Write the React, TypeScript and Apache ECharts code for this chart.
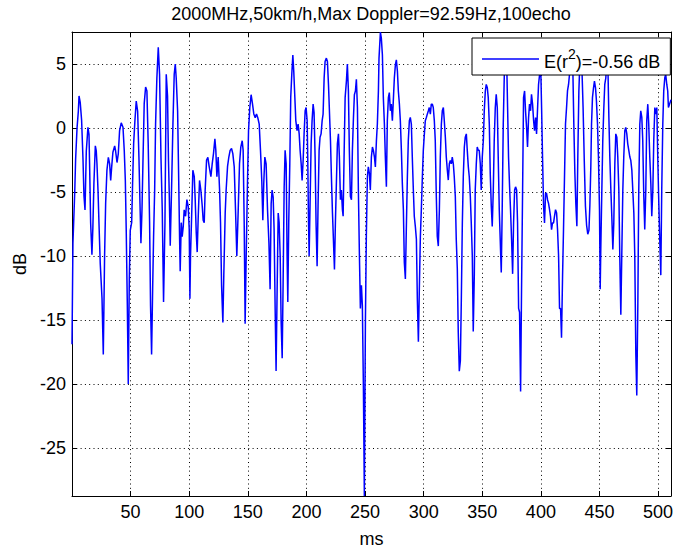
import React, { useEffect, useRef } from 'react';
import * as echarts from 'echarts';

const titleText = '2000MHz,50km/h,Max Doppler=92.59Hz,100echo';
const legendName = 'E(r^2)=-0.56 dB';
const xAxisName = 'ms';
const yAxisName = 'dB';
const xTicks = [50, 100, 150, 200, 250, 300, 350, 400, 450, 500];
const yTicks = [5, 0, -5, -10, -15, -20, -25];

// [time in ms, level in dB]
const trace0to100: [number, number][] = [
  [0, -16.9], [0.8, -9.0], [2.3, -5.1], [3.1, -2.4], [4.3, 0], [5.4, 1.3], [6.0, 2.5], [7.0, 2.0], [8.2, 0.6], [9.4, -2.5],
  [10.2, -5.3], [11.1, -6.4], [12.2, -1.8], [13.6, 0.05], [14.5, -0.5], [15.0, -2.8], [15.9, -7.4], [17.0, -9.9], [17.8, -7.8], [18.7, -4.3],
  [19.9, -1.4], [20.7, -1.8], [21.3, -2.8], [22.2, -4.9], [23.0, -7.4], [24.1, -10.6], [25.6, -13.3], [26.7, -17.7], [27.8, -10.0], [28.7, -5.9],
  [29.8, -3.3], [31.0, -2.3], [32.1, -2.8], [33.0, -4.1], [33.8, -3.1], [34.9, -1.9], [36.4, -1.4], [37.2, -1.8], [38.4, -2.7], [39.5, -2.0],
  [40.6, -0.2], [42.0, 0.4], [43.5, 0.05], [44.6, -1.8], [45.5, -4.1], [46.3, -8.2], [47.2, -13.9], [48.0, -20.0], [48.9, -11.7], [49.7, -8.0],
  [50.9, -7.4], [51.7, -4.3], [52.6, -1.2], [53.7, 0.6], [54.8, 2.1], [56.0, 1.3], [57.1, -2.3], [58.0, -5.9], [58.8, -9.0], [59.7, -6.4],
  [60.5, -2.8], [61.6, 1.9], [62.8, 3.2], [63.9, 2.9], [65.0, -1.2], [66.2, -7.4], [67.0, -13.9], [67.9, -17.7], [68.8, -12.6], [69.6, -8.5],
  [70.5, -4.9], [71.3, 0.3], [72.4, 3.9], [73.6, 6.3], [74.7, 4.2], [75.9, -2.3], [77.0, -6.4], [78.1, -13.6], [79.3, -7.4], [80.4, 4.2],
  [81.5, 2.5], [82.3, -2.5], [83.0, -5.3], [83.8, -9.2], [84.9, -4.9], [86.1, 0.3], [87.2, 4.2], [88.1, 5.0], [88.9, 3.9], [90.1, 1.3],
  [90.9, -3.3], [91.8, -8.7], [92.3, -11.2], [93.2, -7.4], [94.0, -8.5], [94.9, -7.7], [95.7, -6.4], [96.9, -6.9], [98.0, -5.6], [99.1, -6.1],
];

const trace100to200: [number, number][] = [
  [100.0, -7.9], [100.6, -13.35], [101.1, -10.0], [102.3, -6.1], [103.1, -3.3], [104.3, -3.8], [105.1, -5.6], [106.0, -8.2], [106.8, -9.7], [107.7, -6.9],
  [108.8, -4.1], [109.9, -4.85], [111.1, -6.1], [111.9, -7.2], [112.8, -7.4], [113.6, -4.85], [114.8, -2.5], [115.9, -2.3], [117.0, -3.0], [118.5, -3.8],
  [119.6, -2.8], [120.7, -2.0], [121.9, -0.85], [122.7, -1.75], [123.6, -3.8], [124.7, -2.27], [125.9, -4.85], [126.7, -7.4], [127.6, -12.3], [128.7, -15.2],
  [129.5, -11.5], [130.7, -6.6], [131.5, -4.85], [132.7, -3.0], [133.8, -2.27], [134.9, -1.75], [136.1, -1.6], [137.2, -2.0], [138.4, -3.04], [139.5, -6.4],
  [140.6, -10.0], [141.8, -6.4], [142.9, -2.8], [144.0, -1.5], [145.2, -1.0], [146.0, -1.75], [146.9, -7.4], [147.7, -15.3], [148.6, -10.0], [149.7, -4.3],
  [150.6, -0.2], [151.7, 1.6], [152.8, 2.6], [154.0, 1.86], [155.1, 1.1], [156.3, 0.8], [157.4, 1.1], [158.5, 0.8], [159.7, 0.3], [160.8, -1.75],
  [161.9, -4.1], [162.8, -7.2], [163.6, -4.3], [164.5, -2.27], [165.6, -2.8], [166.8, -6.4], [168.0, -9.0], [169.0, -12.6], [169.9, -5.9], [170.7, -4.85],
  [171.6, -5.4], [172.4, -7.9], [173.3, -14.1], [174.1, -19.0], [175.0, -12.6], [175.9, -6.65], [176.7, -7.4], [177.6, -10.0], [178.4, -15.15], [179.3, -18.0],
  [180.1, -12.1], [181.0, -4.6], [181.8, -1.75], [182.7, -2.8], [183.5, -10.0], [184.1, -13.6], [184.9, -7.4], [185.8, -2.8], [186.6, 2.4], [187.5, 4.2],
  [188.4, 5.7], [189.2, 4.4], [190.1, 2.4], [190.9, 0.6], [192.0, -0.2], [192.9, 0.3], [193.8, -0.46], [194.6, -1.75], [195.5, -2.8], [196.3, -4.1],
  [197.2, -2.5], [198.0, -0.46], [198.9, 1.34], [199.7, 1.6],
];

const trace200to300: [number, number][] = [
  [200.6, 0.57], [201.1, -2.27], [201.7, -6.9], [202.3, -10.0], [203.1, -5.9], [204.0, -1.24], [204.8, 0.57], [205.7, 1.86], [206.5, 1.2], [207.4, -2.27],
  [208.2, -7.4], [209.1, -10.8], [209.9, -6.1], [210.8, -1.75], [211.6, -0.72], [212.5, -0.46], [213.4, 0.57], [214.2, 1.08], [215.1, 3.92], [215.9, 5.2],
  [217.0, 5.46], [217.9, 5.2], [218.8, 3.4], [219.6, 1.34], [220.5, -0.98], [221.3, -3.8], [222.2, -6.65], [223.0, -8.7], [223.9, -11.05], [224.7, -7.4],
  [225.6, -4.1], [226.4, -1.24], [227.3, -0.46], [228.1, -2.27], [229.0, -5.6], [229.8, -4.85], [230.7, -6.4], [231.3, -6.9], [232.1, -2.27], [233.0, 2.37],
  [234.1, 3.66], [234.9, 5.0], [235.8, 2.9], [236.6, -1.75], [237.5, -5.36], [238.4, -5.6], [239.2, -1.75], [240.1, 0.8], [240.9, 2.6], [241.8, 2.9],
  [242.6, 3.8], [243.5, 1.6], [244.3, -4.85], [245.2, -10.0], [246.0, -14.1], [246.9, -12.3], [247.7, -13.9], [248.6, -20.3], [249.4, -28.76], [250.3, -15.2],
  [251.1, -8.45], [252.0, -3.8], [252.8, -3.04], [253.7, -3.56], [254.5, -4.85], [255.4, -2.27], [256.3, -1.49], [257.1, -1.75], [258.0, -2.27], [258.8, -3.04],
  [259.7, -0.98], [260.5, 0.31], [261.4, 2.9], [261.9, 5.46], [263.1, 7.5], [263.9, 7.0], [264.8, 5.7], [265.6, 2.37], [266.5, 0.31], [267.3, -2.27],
  [268.2, -4.6], [269.0, 0.57], [269.9, 2.37], [270.7, 2.76], [271.6, 1.34], [272.4, 1.86], [273.3, 0.57], [274.1, 2.11], [275.0, 3.92], [275.9, 4.95],
  [276.7, 5.33], [277.6, 4.43], [278.4, 2.89], [279.3, 1.86], [280.1, 0.57], [281.0, -1.75], [281.8, -4.33], [282.7, -6.39], [283.5, -10.5], [284.4, -11.8],
  [285.2, -7.94], [286.1, -3.81], [286.9, -0.98], [287.8, 0.57], [288.6, 0.82], [289.5, 0.31], [290.3, -2.27], [291.2, -4.85], [292.0, -6.9], [292.9, -7.7],
  [293.8, -8.7], [294.6, -13.35], [295.5, -16.7], [296.3, -12.6], [297.2, -8.45], [298.0, -6.4], [298.9, -3.8], [299.7, -1.75],
];

const trace300to400: [number, number][] = [
  [300.6, -0.46], [301.4, 0.57], [302.3, 0.82], [303.1, 1.08], [304.0, 1.34], [304.8, 1.6], [305.7, 1.08], [306.5, 1.86], [307.4, 1.86], [308.2, 1.6],
  [309.1, 0.57], [309.9, -0.98], [310.8, -5.36], [311.6, -8.45], [312.5, -9.23], [313.4, -6.4], [314.2, -2.27], [315.1, 0.31], [315.9, 1.34], [316.8, 1.6],
  [317.6, 0.57], [318.5, -0.72], [319.3, -2.27], [320.2, -3.3], [321.0, -4.07], [321.9, -2.8], [322.7, -2.53], [323.6, -2.8], [324.4, -2.27], [325.3, -2.8],
  [326.1, -3.81], [327.0, -5.36], [327.8, -8.7], [328.7, -11.0], [329.5, -15.9], [330.4, -19.0], [331.3, -18.2], [332.1, -13.6], [333.0, -7.4], [333.8, -3.81],
  [334.7, -1.49], [335.5, -0.72], [336.4, -0.46], [337.2, -1.75], [338.1, -3.04], [338.9, -3.81], [339.8, -5.36], [340.6, -7.4], [341.5, -10.0], [342.3, -15.9],
  [343.2, -11.5], [344.0, -4.85], [344.9, -2.8], [345.7, -1.49], [346.6, -1.75], [347.4, -1.75], [348.3, -2.78], [349.1, -4.85], [350.0, -2.27], [350.9, -0.98],
  [351.7, 1.34], [352.6, 2.89], [353.4, 3.4], [354.3, 3.14], [355.1, 2.37], [356.0, 0.31], [356.8, -3.56], [357.7, -6.13], [358.5, -7.7], [359.4, -4.85],
  [360.2, -0.98], [361.1, 1.6], [361.9, 2.63], [362.8, 1.6], [363.6, -2.27], [364.5, -6.39], [365.3, -8.7], [366.2, -11.3], [367.0, -6.39], [367.9, 0.31],
  [368.8, 4.18], [369.6, 5.8], [370.7, 5.8], [371.6, 1.6], [372.4, -2.27], [373.3, -4.6], [374.1, -6.39], [375.0, -8.7], [375.9, -11.4], [376.7, -7.4],
  [377.6, -4.85], [378.4, -4.6], [379.3, -4.85], [380.1, -7.4], [381.0, -14.1], [381.8, -14.4], [382.7, -20.6], [383.5, -12.6], [384.4, -4.85], [385.2, 2.37],
  [386.1, 2.89], [386.9, 1.34], [387.8, 0.05], [388.6, -1.49], [389.5, 0.82], [390.3, 1.86], [391.2, 1.34], [392.0, 2.63], [392.9, 1.86], [393.8, 0.57],
  [394.6, -0.21], [395.5, 0.82], [396.3, -0.46], [397.2, 1.6], [398.0, 3.4], [398.9, 4.18], [399.7, 5.5],
];

const trace400to511: [number, number][] = [
  [400.6, 1.6], [401.4, -2.27], [402.3, -6.13], [403.1, -7.42], [404.0, -5.1], [404.8, -5.1], [405.7, -5.62], [406.5, -5.88], [407.4, -6.39], [408.2, -6.9],
  [409.1, -7.94], [409.9, -7.42], [410.8, -7.42], [411.6, -6.9], [412.5, -6.39], [413.4, -6.65], [414.2, -7.94], [415.1, -10.0], [415.9, -14.1], [416.8, -14.1],
  [417.6, -16.4], [418.5, -11.55], [419.3, -7.94], [420.2, -3.56], [421.0, 0.31], [421.9, 1.6], [422.7, 2.89], [423.6, 3.4], [424.4, 4.18], [425.3, 5.5],
  [427.0, 6.0], [428.1, 0.31], [429.0, -3.56], [429.8, -5.88], [430.7, -7.68], [431.5, -2.27], [432.4, 2.89], [433.2, 5.0], [434.9, 5.0], [436.0, 1.6],
  [437.0, -2.5], [438.0, -6.1], [439.0, -7.6], [440.0, -8.3], [441.0, -8.0], [441.8, -6.0], [442.6, -3.0], [443.2, 0.31], [444.0, 2.37], [444.9, 3.14],
  [445.7, 3.66], [446.6, 3.14], [447.4, 2.11], [448.3, 0.31], [449.1, -2.27], [450.0, -6.39], [450.6, -12.6], [451.1, -9.5], [452.0, -4.85], [452.8, -0.98],
  [453.7, 1.6], [454.5, 3.4], [455.4, 3.92], [456.3, 5.2], [457.1, 5.2], [458.0, 0.82], [458.8, -2.27], [459.7, -4.85], [460.5, -6.9], [461.4, -9.5],
  [462.2, -7.42], [463.1, -2.78], [463.9, -0.46], [464.8, -0.72], [465.6, -2.27], [466.5, -4.85], [467.3, -10.0], [468.2, -14.6], [469.0, -10.0], [469.9, -4.85],
  [470.7, -2.27], [471.6, -0.21], [472.4, 0.05], [473.3, -0.46], [474.1, -1.24], [475.0, -1.75], [475.9, -2.27], [476.7, -2.53], [477.6, -3.3], [478.4, -4.85],
  [479.3, -6.65], [480.1, -10.0], [481.0, -17.7], [481.8, -20.9], [482.7, -13.9], [483.5, -4.85], [484.4, 0.31], [485.2, 1.34], [486.1, 0.82], [486.9, -0.98],
  [487.8, -5.36], [488.6, -7.94], [489.5, -4.85], [490.3, 0.57], [491.2, 1.86], [492.0, 0.31], [492.9, -2.27], [493.8, -4.33], [494.6, -6.9], [495.5, -4.85],
  [496.3, -0.98], [497.2, 1.6], [498.0, 1.08], [498.9, 1.6], [499.7, -2.27], [500.6, -5.88], [501.4, -8.7], [502.3, -11.5], [503.1, -4.85], [504.0, 0.31],
  [504.8, 2.89], [505.7, 3.92], [506.5, 4.18], [507.4, 3.4], [508.2, 2.89], [508.8, 1.6], [511, 2.2],
];

const FONT = '"Liberation Sans", Arial, Helvetica, sans-serif';

export default function App() {
  const ref = useRef<HTMLDivElement>(null);

  useEffect(() => {
    document.body.style.margin = '0';
    if (!ref.current) return;
    const chart = echarts.init(ref.current, null, { renderer: 'svg' });

    const data = [...trace0to100, ...trace100to200, ...trace200to300, ...trace300to400, ...trace400to511];
    const levels = data.map((d) => d[1]);
    const yMin = Math.min(...levels);
    const yMax = Math.max(...levels);
    const xMin = data[0][0];
    const xMax = data[data.length - 1][0];

    const labelStyle = { fontFamily: FONT, fontSize: 18, color: '#000' };
    const frameLine = { show: true, onZero: false, lineStyle: { color: '#000', width: 1 } };
    const dotted = { show: true, lineStyle: { color: '#000', width: 1, type: [1, 3.3] as number[] } };
    const tick = (values: number[]) => ({
      show: true, inside: true, length: 5, customValues: values, lineStyle: { color: '#000' },
    });

    chart.setOption({
      animation: false,
      backgroundColor: '#fff',
      title: {
        text: titleText,
        left: 371,
        top: 5,
        padding: 0,
        textAlign: 'center',
        textStyle: { ...labelStyle, fontWeight: 'normal' },
      },
      legend: {
        left: 472,
        top: 38,
        padding: [9, 10, 4, 10],
        itemWidth: 57,
        itemHeight: 1.5,
        borderColor: '#000',
        borderWidth: 1,
        borderRadius: 0,
        backgroundColor: '#fff',
        data: [{ name: legendName, icon: 'rect' }],
        itemStyle: { color: '#0000ff' },
        formatter: () => '{a|E(r}{s|2}{a|)=-0.56 dB}',
        textStyle: {
          ...labelStyle,
          rich: {
            a: { fontFamily: FONT, fontSize: 18, color: '#000', verticalAlign: 'bottom' },
            s: { fontFamily: FONT, fontSize: 14, color: '#000', verticalAlign: 'top', padding: [0, 0, 10, 0] },
          },
        },
      },
      grid: { left: 72, right: 27, top: 32, bottom: 52, containLabel: false },
      xAxis: [
        {
          type: 'value',
          position: 'bottom',
          min: xMin,
          max: xMax,
          name: xAxisName,
          nameLocation: 'middle',
          nameGap: 34,
          nameTextStyle: labelStyle,
          axisLine: frameLine,
          axisTick: tick(xTicks),
          axisLabel: { show: true, customValues: xTicks, margin: 7, ...labelStyle },
          splitLine: dotted,
        },
        {
          type: 'value',
          position: 'top',
          min: xMin,
          max: xMax,
          axisLine: frameLine,
          axisTick: tick(xTicks),
          axisLabel: { show: false },
          splitLine: { show: false },
        },
      ],
      yAxis: [
        {
          type: 'value',
          position: 'left',
          min: yMin,
          max: yMax,
          name: yAxisName,
          nameLocation: 'middle',
          nameGap: 40,
          nameTextStyle: labelStyle,
          axisLine: frameLine,
          axisTick: tick(yTicks),
          axisLabel: { show: true, customValues: yTicks, margin: 6, ...labelStyle },
          splitLine: dotted,
        },
        {
          type: 'value',
          position: 'right',
          min: yMin,
          max: yMax,
          axisLine: frameLine,
          axisTick: tick(yTicks),
          axisLabel: { show: false },
          splitLine: { show: false },
        },
      ],
      series: [
        {
          name: legendName,
          type: 'line',
          xAxisIndex: 0,
          yAxisIndex: 0,
          data,
          symbol: 'none',
          showSymbol: false,
          clip: true,
          lineStyle: { color: '#0000ff', width: 1.5 },
          itemStyle: { color: '#0000ff' },
        },
      ],
    });

    return () => chart.dispose();
  }, []);

  return (
    <div
      ref={ref}
      style={{ position: 'fixed', left: 0, top: 0, width: 698, height: 553, background: '#fff' }}
    />
  );
}
